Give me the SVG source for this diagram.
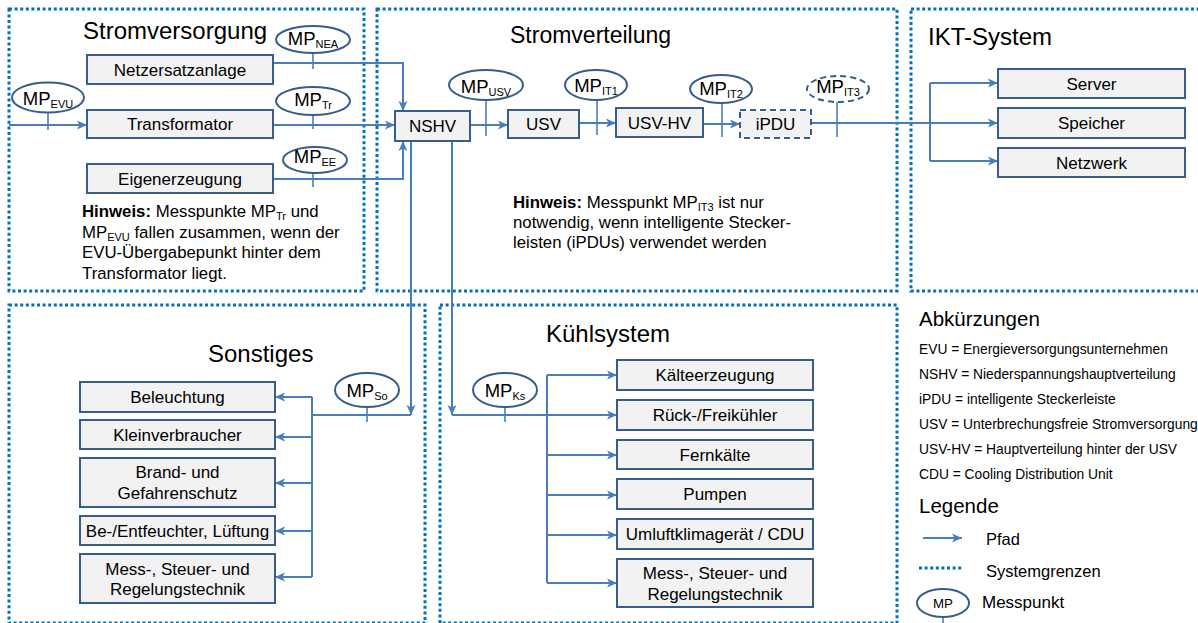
<svg xmlns="http://www.w3.org/2000/svg" width="1198" height="623" viewBox="0 0 1198 623">
<defs>
<marker id="ar" markerWidth="11" markerHeight="10" refX="10" refY="5" orient="auto" markerUnits="userSpaceOnUse"><path d="M0,0.5 L10,5 L0,9.5 L2.5,5 z" fill="#4a7ebb"/></marker>
<style>
.b{fill:none;stroke:#0070c0;stroke-width:3;stroke-dasharray:3 2.6}
.n{fill:#f2f2f2;stroke:#385d8a;stroke-width:2}
.nd{fill:#f2f2f2;stroke:#385d8a;stroke-width:2;stroke-dasharray:6 4}
.c{fill:none;stroke:#4a7ebb;stroke-width:2}
.a{marker-end:url(#ar)}
.mp{fill:#fff;stroke:#385d8a;stroke-width:2}
.mpd{fill:#fff;stroke:#385d8a;stroke-width:2;stroke-dasharray:6 4}
.tk{stroke:#4a7ebb;stroke-width:1.6}
text{font-family:"Liberation Sans",Arial,sans-serif;fill:#000}
.nt{font-size:17px;text-anchor:middle}
.ti{font-size:24px}
.mpt{font-size:18.5px;text-anchor:middle}
.sub{font-size:11px}
.hw{font-size:16.8px}
.ab{font-size:13.8px}
.lg{font-size:16.5px}
</style>
</defs>
<rect width="1198" height="623" fill="#fff"/>
<g id="boundaries">
<rect class="b" x="9" y="9" width="355" height="282"/>
<rect class="b" x="377" y="9" width="520" height="282"/>
<rect class="b" x="911" y="9" width="300" height="282"/>
<rect class="b" x="9" y="305" width="416" height="318"/>
<rect class="b" x="440" y="305" width="457" height="318"/>
</g>
<g id="titles">
<text class="ti" x="83" y="39">Stromversorgung</text>
<text class="ti" x="510" y="43" style="font-size:23px">Stromverteilung</text>
<text class="ti" x="928" y="45">IKT-System</text>
<text class="ti" x="208" y="362">Sonstiges</text>
<text class="ti" x="546" y="342">Kühlsystem</text>
</g>
<g id="connectors">
<path class="c a" d="M9,125 H87"/>
<path class="c a" d="M273,63 H403 V111"/>
<path class="c a" d="M273,125 H395"/>
<path class="c a" d="M273,179 H403 V141"/>
<path class="c a" d="M470,125 H508"/>
<path class="c a" d="M579,123 H616"/>
<path class="c a" d="M703,124 H740"/>
<path class="c a" d="M811,123 H998"/>
<path class="c" d="M930,83 V161"/>
<path class="c a" d="M930,83 H998"/>
<path class="c a" d="M930,161 H998"/>
<path class="c a" d="M411,141 V415"/>
<path class="c" d="M411,415 H312"/>
<path class="c" d="M312,397 V577"/>
<path class="c a" d="M312,397 H275"/>
<path class="c a" d="M312,437 H275"/>
<path class="c a" d="M312,483 H275"/>
<path class="c a" d="M312,531 H275"/>
<path class="c a" d="M312,577 H275"/>
<path class="c a" d="M452,141 V415"/>
<path class="c a" d="M452,415 H617"/>
<path class="c" d="M547,375 V583"/>
<path class="c a" d="M547,375 H617"/>
<path class="c a" d="M547,455 H617"/>
<path class="c a" d="M547,495 H617"/>
<path class="c a" d="M547,535 H617"/>
<path class="c a" d="M547,583 H617"/>
</g>
<g id="n-netzersatz"><rect class="n" x="87" y="55" width="186" height="29"/><text class="nt" x="180" y="75.5">Netzersatzanlage</text></g>
<g id="n-trafo"><rect class="n" x="87" y="110" width="186" height="28"/><text class="nt" x="180" y="130">Transformator</text></g>
<g id="n-eigen"><rect class="n" x="87" y="164" width="186" height="29"/><text class="nt" x="180" y="184.5">Eigenerzeugung</text></g>
<g id="n-nshv"><rect class="n" x="395" y="111" width="75" height="30"/><text class="nt" x="432.5" y="132">NSHV</text></g>
<g id="n-usv"><rect class="n" x="508" y="110" width="71" height="28"/><text class="nt" x="543.5" y="130">USV</text></g>
<g id="n-usvhv"><rect class="n" x="616" y="108" width="87" height="29"/><text class="nt" x="659.5" y="128.5">USV-HV</text></g>
<g id="n-ipdu"><rect class="nd" x="740" y="110" width="71" height="28"/><text class="nt" x="775.5" y="130">iPDU</text></g>
<g id="n-server"><rect class="n" x="998" y="69" width="187" height="29"/><text class="nt" x="1091.5" y="89.5">Server</text></g>
<g id="n-speicher"><rect class="n" x="998" y="108" width="187" height="30"/><text class="nt" x="1091.5" y="129">Speicher</text></g>
<g id="n-netzwerk"><rect class="n" x="998" y="148" width="187" height="29"/><text class="nt" x="1091.5" y="168.5">Netzwerk</text></g>
<g id="n-beleuchtung"><rect class="n" x="80" y="382" width="195" height="30"/><text class="nt" x="177.5" y="403">Beleuchtung</text></g>
<g id="n-klein"><rect class="n" x="80" y="420" width="195" height="29"/><text class="nt" x="177.5" y="440.5">Kleinverbraucher</text></g>
<g id="n-brand"><rect class="n" x="80" y="458" width="195" height="49"/><text class="nt" x="177.5" y="478">Brand- und</text><text class="nt" x="177.5" y="498.5">Gefahrenschutz</text></g>
<g id="n-befeucht"><rect class="n" x="80" y="516" width="195" height="29"/><text class="nt" x="177.5" y="536.5">Be-/Entfeuchter, Lüftung</text></g>
<g id="n-msr1"><rect class="n" x="80" y="554" width="195" height="49"/><text class="nt" x="177.5" y="574.5">Mess-, Steuer- und</text><text class="nt" x="177.5" y="595">Regelungstechnik</text></g>
<g id="n-kaelte"><rect class="n" x="617" y="360" width="196" height="30"/><text class="nt" x="715" y="381">Kälteerzeugung</text></g>
<g id="n-rueck"><rect class="n" x="617" y="400" width="196" height="30"/><text class="nt" x="715" y="421">Rück-/Freikühler</text></g>
<g id="n-fern"><rect class="n" x="617" y="440" width="196" height="29"/><text class="nt" x="715" y="460.5">Fernkälte</text></g>
<g id="n-pumpen"><rect class="n" x="617" y="479" width="196" height="30"/><text class="nt" x="715" y="500">Pumpen</text></g>
<g id="n-umluft"><rect class="n" x="617" y="519" width="196" height="30"/><text class="nt" x="715" y="540">Umluftklimagerät / CDU</text></g>
<g id="n-msr2"><rect class="n" x="617" y="559" width="196" height="48"/><text class="nt" x="715" y="579">Mess-, Steuer- und</text><text class="nt" x="715" y="599.5">Regelungstechnik</text></g>
<g id="mp-evu"><line class="tk" x1="48" y1="112" x2="48" y2="130"/><ellipse class="mp" cx="48" cy="97.5" rx="36" ry="15"/><text class="mpt" x="48" y="105">MP<tspan class="sub" dy="3">EVU</tspan></text></g>
<g id="mp-nea"><line class="tk" x1="313" y1="53" x2="313" y2="69"/><ellipse class="mp" cx="313" cy="39.5" rx="37" ry="13.5"/><text class="mpt" x="313" y="44.5">MP<tspan class="sub" dy="3">NEA</tspan></text></g>
<g id="mp-tr"><line class="tk" x1="313" y1="115" x2="313" y2="129"/><ellipse class="mp" cx="313" cy="101" rx="37" ry="14"/><text class="mpt" x="313" y="106">MP<tspan class="sub" dy="3">Tr</tspan></text></g>
<g id="mp-ee"><line class="tk" x1="313" y1="173" x2="313" y2="187"/><ellipse class="mp" cx="315" cy="160" rx="32" ry="13"/><text class="mpt" x="315" y="163">MP<tspan class="sub" dy="3">EE</tspan></text></g>
<g id="mp-usv"><line class="tk" x1="486" y1="100" x2="486" y2="136"/><ellipse class="mp" cx="486" cy="85" rx="37" ry="15"/><text class="mpt" x="486" y="92.5">MP<tspan class="sub" dy="3">USV</tspan></text></g>
<g id="mp-it1"><line class="tk" x1="597" y1="100" x2="597" y2="135"/><ellipse class="mp" cx="596" cy="85" rx="31" ry="15"/><text class="mpt" x="596" y="92">MP<tspan class="sub" dy="3">IT1</tspan></text></g>
<g id="mp-it2"><line class="tk" x1="722" y1="103" x2="722" y2="137"/><ellipse class="mp" cx="721" cy="89" rx="31" ry="14"/><text class="mpt" x="721" y="95">MP<tspan class="sub" dy="3">IT2</tspan></text></g>
<g id="mp-it3"><line class="tk" x1="837" y1="102" x2="837" y2="137"/><ellipse class="mpd" cx="838" cy="89" rx="31" ry="13"/><text class="mpt" x="838" y="93">MP<tspan class="sub" dy="3">IT3</tspan></text></g>
<g id="mp-so"><line class="tk" x1="367" y1="407" x2="367" y2="422"/><ellipse class="mp" cx="367" cy="390" rx="32" ry="17"/><text class="mpt" x="367" y="396.5">MP<tspan class="sub" dy="3">So</tspan></text></g>
<g id="mp-ks"><line class="tk" x1="505" y1="407" x2="505" y2="422"/><ellipse class="mp" cx="505" cy="390" rx="32" ry="17"/><text class="mpt" x="505" y="396.5">MP<tspan class="sub" dy="3">Ks</tspan></text></g>
<g id="hinweis1">
<text class="hw" x="82" y="217"><tspan font-weight="bold">Hinweis:</tspan> Messpunkte MP<tspan class="sub" dy="3">Tr</tspan><tspan dy="-3"> und</tspan></text>
<text class="hw" x="82" y="237.5">MP<tspan class="sub" dy="3">EVU</tspan><tspan dy="-3"> fallen zusammen, wenn der</tspan></text>
<text class="hw" x="82" y="258">EVU-Übergabepunkt hinter dem</text>
<text class="hw" x="82" y="278.5">Transformator liegt.</text>
</g>
<g id="hinweis2">
<text class="hw" x="513" y="208"><tspan font-weight="bold">Hinweis:</tspan> Messpunkt MP<tspan class="sub" dy="3">IT3</tspan><tspan dy="-3"> ist nur</tspan></text>
<text class="hw" x="513" y="228">notwendig, wenn intelligente Stecker-</text>
<text class="hw" x="513" y="248">leisten (iPDUs) verwendet werden</text>
</g>
<g id="abkuerzungen">
<text x="919" y="326" style="font-size:20.5px">Abkürzungen</text>
<text class="ab" x="919" y="354">EVU = Energieversorgungsunternehmen</text>
<text class="ab" x="919" y="379">NSHV = Niederspannungshauptverteilung</text>
<text class="ab" x="919" y="404">iPDU = intelligente Steckerleiste</text>
<text class="ab" x="919" y="429">USV = Unterbrechungsfreie Stromversorgung</text>
<text class="ab" x="919" y="454">USV-HV = Hauptverteilung hinter der USV</text>
<text class="ab" x="919" y="479">CDU = Cooling Distribution Unit</text>
</g>
<g id="legende">
<text x="919" y="513" style="font-size:20.5px">Legende</text>
<path class="c a" d="M923,538 H962"/>
<text class="lg" x="986" y="545">Pfad</text>
<line class="b" x1="919" y1="568" x2="962" y2="568"/>
<text class="lg" x="986" y="577">Systemgrenzen</text>
<line class="tk" x1="943" y1="617" x2="943" y2="624"/>
<ellipse class="mp" cx="943" cy="603" rx="26" ry="14"/>
<text x="943" y="608" style="font-size:13.3px;text-anchor:middle">MP</text>
<text class="lg" x="982" y="608" style="font-size:17px">Messpunkt</text>
</g>
</svg>
